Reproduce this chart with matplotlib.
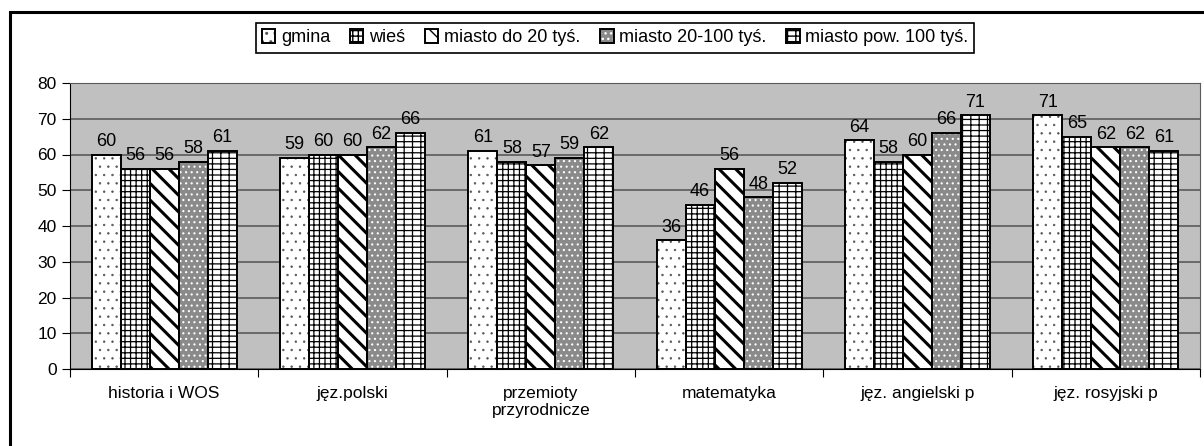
import numpy as np
import matplotlib
matplotlib.use("Agg")
import matplotlib.pyplot as plt
from matplotlib.patches import Rectangle
from matplotlib.legend_handler import HandlerTuple

# data
categories = ["historia i WOS", "jęz.polski", "przemioty\nprzyrodnicze",
              "matematyka", "jęz. angielski p", "jęz. rosyjski p"]
series_names = ["gmina", "wieś", "miasto do 20 tyś.", "miasto 20-100 tyś.",
                "miasto pow. 100 tyś."]
gmina = [60, 59, 61, 36, 64, 71]
wies = [56, 60, 58, 46, 58, 65]
miasto_do20 = [56, 60, 57, 56, 60, 62]
miasto_20_100 = [58, 62, 59, 48, 66, 62]
miasto_pow100 = [61, 66, 62, 52, 71, 61]
series = [gmina, wies, miasto_do20, miasto_20_100, miasto_pow100]

# styles: facecolor, hatch colour, hatch, hatch linewidth
styles = [
    ("white", "#555555", "..", 0.5),
    ("white", "black", "+++", 0.9),
    ("white", "black", "\\\\", 2.2),
    ("#8a8a8a", "white", "...", 0.8),
    ("white", "black", "---||", 0.9),
]

plt.rcParams["font.family"] = ["Liberation Sans", "DejaVu Sans"]

fig = plt.figure(figsize=(12.04, 4.46), dpi=100)
ax = fig.add_axes([70 / 1204, (446 - 369) / 446, 1130 / 1204, 286 / 446])
ax.set_facecolor("#C0C0C0")

x = np.arange(len(categories))
w = 0.154
handles = []
for i, (vals, st) in enumerate(zip(series, styles)):
    fc, hc, hatch, hlw = st
    pos = x - 2 * w + i * w
    with plt.rc_context({"hatch.linewidth": hlw}):
        b = ax.bar(pos, vals, w, color=fc, edgecolor=hc, hatch=hatch,
                   linewidth=0, zorder=2)
    o = ax.bar(pos, vals, w, fill=False, edgecolor="black", linewidth=1.4, zorder=3)
    handles.append((b.patches[0], o.patches[0]))
    for p, v in zip(pos, vals):
        ax.text(p, v + 1.3, str(v), ha="center", va="bottom", fontsize=13, zorder=4)

ax.set_xlim(-0.5, len(categories) - 0.5)
ax.set_ylim(0, 80)
ax.set_yticks(range(0, 81, 10))
ax.yaxis.grid(True, color="#5a5a5a", linewidth=1.2, zorder=1)
ax.set_axisbelow(True)
ax.set_xticks(np.arange(len(categories) + 1) - 0.5)
ax.set_xticklabels([])
ax.set_xticks(x, minor=True)
ax.set_xticklabels(categories, minor=True, fontsize=12.5)
ax.tick_params(axis="x", which="minor", length=0, pad=12)
ax.tick_params(axis="x", which="major", length=6, direction="out")
ax.tick_params(axis="y", labelsize=12.5, length=6, direction="out")
for s in ["top", "right"]:
    ax.spines[s].set_color("#5a5a5a")
ax.spines["left"].set_color("black")
ax.spines["bottom"].set_color("black")

leg = fig.legend(handles, series_names, loc="upper center",
                 bbox_to_anchor=(615 / 1204, (446 - 14) / 446), ncol=5,
                 fancybox=False, edgecolor="black", framealpha=1,
                 fontsize=13, handlelength=0.75, handleheight=0.75,
                 handletextpad=0.3, columnspacing=1.1, borderpad=0.35,
                 handler_map={tuple: HandlerTuple(ndivide=1, pad=0)})
leg.get_frame().set_linewidth(1.2)

# outer chart border
fig.patches.append(Rectangle((10 / 1204, -0.1), 1.2, (446 - 12) / 446 + 0.1,
                             transform=fig.transFigure, fill=False,
                             edgecolor="black", linewidth=2.2, clip_on=False))

fig.savefig("out.png", dpi=100)
